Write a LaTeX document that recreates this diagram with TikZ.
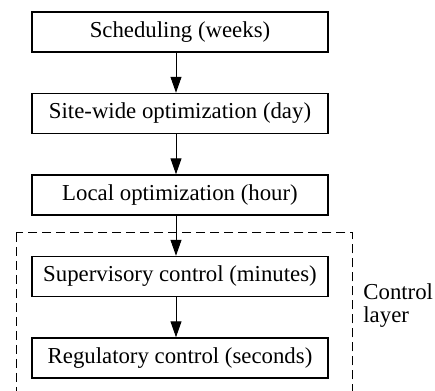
\documentclass[tikz,border=0pt]{standalone}
\usepackage{fontspec}
\setmainfont{Liberation Serif}
\usetikzlibrary{positioning,arrows.meta,calc}
\tikzset{
levelnode/.style={rectangle, draw=black, line width=0.75pt, minimum width=148pt, minimum height=20pt, inner sep=0pt, text centered},
>={Triangle[width=5.5pt,length=8pt]},
flow/.style={->, line width=0.5pt},
layerbox/.style={draw=black, line width=0.5pt, dash pattern=on 4.5pt off 2.5pt}
}
\begin{document}
\begin{tikzpicture}[node distance=20pt, font=\fontsize{11.4}{13.7}\selectfont]

\clip (0,0) rectangle (217.5pt,-195.5pt);

%Hierarchy nodes
\node[levelnode] (scheduling) at(90pt,-16pt) {Scheduling (weeks)};
\node[levelnode, below=of scheduling] (sitewide) {Site-wide optimization (day)};
\node[levelnode, below=of sitewide] (local) {Local optimization (hour)};
\node[levelnode, below=of local] (supervisory) {Supervisory control (minutes)};
\node[levelnode, below=of supervisory] (regulatory) {Regulatory control (seconds)};

\draw[flow] ([xshift=-2pt]scheduling.south) -- ([xshift=-2pt]sitewide.north);
\draw[flow] ([xshift=-2pt]sitewide.south) -- ([xshift=-2pt]local.north);
\draw[flow] ([xshift=-2pt]local.south) -- ([xshift=-2pt]supervisory.north);
\draw[flow] ([xshift=-2pt]supervisory.south) -- ([xshift=-2pt]regulatory.north);

%Control layer
\draw[layerbox] ($(supervisory.north west)+(-7.5pt,11.5pt)$) rectangle ($(regulatory.south east)+(12pt,-30pt)$);
\node[align=left, anchor=west, inner sep=0pt] (layer) at(181.5pt,-153pt) {Control\\[-2.2pt]layer};

\end{tikzpicture}
\end{document}
